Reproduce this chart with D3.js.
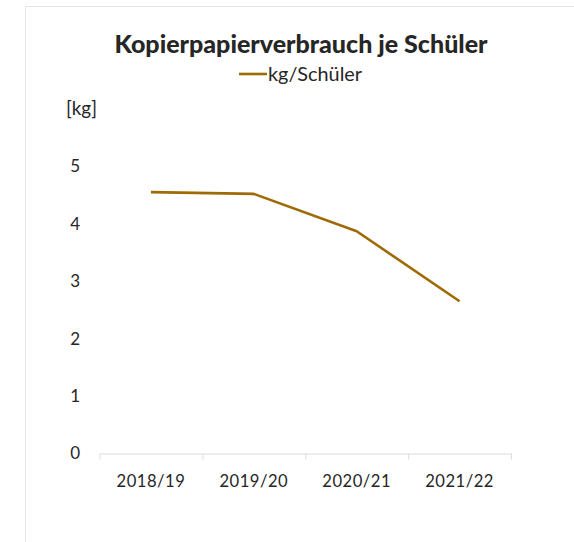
<!DOCTYPE html>
<html lang="de">
<head>
    <meta charset="UTF-8">
    <title>Kopierpapierverbrauch je Schüler</title>
    <script src="https://cdn.jsdelivr.net/npm/d3@7/dist/d3.min.js"></script>
    <style>
        body { margin: 0; background: #fff; }
        text { font-family: Lato, "Open Sans", sans-serif; fill: #262626; }
    </style>
</head>
<body>
<script>

    var width = 574;
    var height = 542;

    // Daten
    var years = ["2018/19", "2019/20", "2020/21", "2021/22"];
    var kgPerStudent = [4.55, 4.52, 3.87, 2.65];
    var yTicks = [0, 1, 2, 3, 4, 5];

    var svg = d3.select('body')
        .append('svg')
        .attr('width', width)
        .attr('height', height)

    // Rahmen des Diagrammbereichs
    svg.append('rect')
        .attr('x', 25.5)
        .attr('y', 6.5)
        .attr('width', 700)
        .attr('height', 700)
        .attr('fill', 'none')
        .attr('stroke', '#e1e4e8')

    // Schrift auf eine Zielbreite bringen
    function fit(sel, w) {
        var cur = sel.node().getBBox().width;
        var fs = parseFloat(sel.attr('font-size'));
        sel.attr('font-size', fs * w / cur);
    }

    var x = d3.scaleBand()
        .domain(years)
        .range([99.5, 511])
        .padding(0)

    var xEdges = d3.scaleLinear()
        .domain([0, years.length])
        .range(x.range())

    var y = d3.scaleLinear()
        .domain([0, 5])
        .range([453.5, 166.3])

    // x-Achse: Linie und Teilstriche
    svg.append('g')
        .attr('transform', 'translate(0,' + y(0) + ')')
        .call(d3.axisBottom(xEdges).tickValues(d3.range(years.length + 1)).tickSize(6).tickSizeOuter(0).tickFormat(''))
        .call(function (g) {
            g.selectAll('line, path').attr('stroke', '#d9dde3');
        });

    // x-Beschriftung
    var xLab = svg.append('g')
        .attr('transform', 'translate(0,' + y(0) + ')')
        .call(d3.axisBottom(x).tickSize(0).tickPadding(22))
    xLab.select('.domain').remove();
    xLab.selectAll('text')
        .attr('font-size', 16)
        .attr('font-family', 'Lato, sans-serif')
        .attr('fill', '#262626')
        .attr('letter-spacing', 0.5)
        .each(function () { fit(d3.select(this), 69); });

    // y-Achse
    var yAx = svg.append('g')
        .attr('transform', 'translate(80,0)')
        .call(d3.axisLeft(y).tickValues(yTicks).tickSize(0).tickPadding(0).tickFormat(d3.format('d')))
    yAx.select('.domain').remove();
    yAx.selectAll('text')
        .attr('font-size', 17)
        .attr('font-family', 'Lato, sans-serif')
        .attr('fill', '#262626')

    // Achsentitel
    var unit = svg.append('text')
        .attr('x', 66)
        .attr('y', 115)
        .attr('font-size', 16)
        .text('[kg]')
    fit(unit, 31);

    // Linie
    var line = d3.line()
        .x(function (d, i) { return x(years[i]) + x.bandwidth() / 2; })
        .y(function (d) { return y(d); })

    svg.append('path')
        .datum(kgPerStudent)
        .attr('d', line)
        .attr('fill', 'none')
        .attr('stroke', '#9e6a03')
        .attr('stroke-width', 2.6)
        .attr('stroke-linejoin', 'round')

    // Titel
    var title = svg.append('text')
        .attr('x', 301)
        .attr('y', 52.5)
        .attr('text-anchor', 'middle')
        .attr('font-size', 22)
        .attr('font-weight', 900)
        .attr('fill', '#000')
        .text('Kopierpapierverbrauch je Schüler')
    fit(title, 374);

    // Legende
    svg.append('line')
        .attr('x1', 239)
        .attr('x2', 267)
        .attr('y1', 74)
        .attr('y2', 74)
        .attr('stroke', '#9e6a03')
        .attr('stroke-width', 2.6)

    var leg = svg.append('text')
        .attr('x', 268)
        .attr('y', 80.5)
        .attr('font-size', 17)
        .text('kg/Schüler')
    fit(leg, 95);

</script>
</body>
</html>
